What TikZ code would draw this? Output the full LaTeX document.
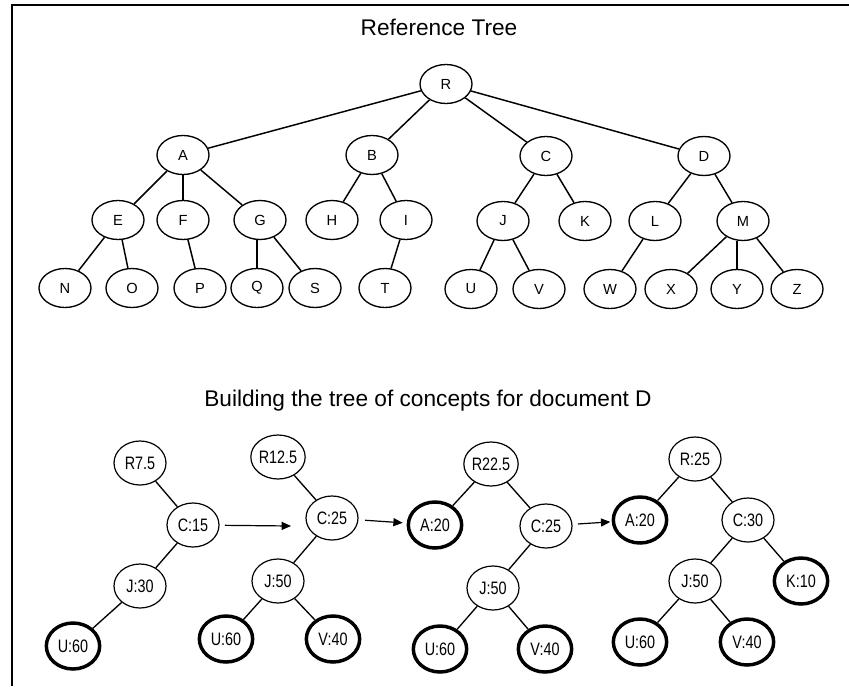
\documentclass[tikz,border=0pt]{standalone}
\usepackage{fontspec}
\setmainfont{Liberation Sans}
\newfontfamily\labelfont[FakeStretch=0.8]{Liberation Sans}
\usetikzlibrary{shapes.geometric,arrows.meta}
\begin{document}
\begin{tikzpicture}[x=0.75pt,y=-0.75pt,
  letter/.style={ellipse,draw,line width=1pt,minimum width=39pt,minimum height=29.25pt,
    inner sep=0pt,font=\fontsize{11}{12}\selectfont},
  edge/.style={line width=1.1pt},
  concept/.style={ellipse,draw,line width=0.9pt,minimum width=39pt,minimum height=33pt,
    inner sep=0pt,font=\labelfont\fontsize{13.5}{15}\selectfont},
  leaf/.style={concept,line width=2.6pt,minimum width=40pt,minimum height=34.5pt},
  link/.style={line width=1pt},
  flow/.style={line width=0.9pt,-{Triangle[length=7pt,width=6pt]}},
  heading/.style={anchor=base,font=\fontsize{17}{20}\selectfont}
]
\useasboundingbox (0,0) rectangle (849,686);
% frame
\draw[line width=1.6pt] (849,5) -- (12,5) -- (12,686);

% headings
\node[heading] (title1) at (439,35) {Reference Tree};
\node[heading] (title2) at (428,406) {Building the tree of concepts for document D};

% reference tree
\node[letter] (R) at (446,84) {R};
\node[letter] (A) at (183,155) {A};
\node[letter] (B) at (372,155) {B};
\node[letter] (C) at (546,156) {C};
\node[letter] (D) at (704,156) {D};
\node[letter] (E) at (118,220) {E};
\node[letter] (F) at (183,220) {F};
\node[letter] (G) at (260,220) {G};
\node[letter] (H) at (332,220) {H};
\node[letter] (I) at (406,220) {I};
\node[letter] (J) at (503,221) {J};
\node[letter] (K) at (585,221) {K};
\node[letter] (L) at (655,221) {L};
\node[letter] (M) at (743,221) {M};
\node[letter] (N) at (65,288) {N};
\node[letter] (O) at (132,288) {O};
\node[letter] (P) at (200,288) {P};
\node[letter] (Q) at (257,288) {Q};
\node[letter] (S) at (315,288) {S};
\node[letter] (T) at (385,288) {T};
\node[letter] (U) at (471,289) {U};
\node[letter] (V) at (539,289) {V};
\node[letter] (W) at (610,289) {W};
\node[letter] (X) at (671,289) {X};
\node[letter] (Y) at (737,289) {Y};
\node[letter] (Z) at (797,289) {Z};

\foreach \p/\c in {R/A,R/B,R/C,R/D,A/E,A/F,A/G,B/H,B/I,C/J,C/K,D/L,D/M,
                   E/N,E/O,F/P,G/S,I/T,J/U,J/V,L/W,M/X,M/Z}
  \draw[edge] (\p) -- (\c);
\draw[edge] (G.south -| Q) -- (Q);
\draw[edge] (M.south -| Y) -- (Y);

% step 1
\node[concept] (r1) at (140,463) {R7.5};
\node[concept] (c1) at (193,525) {C:15};
\node[concept] (j1) at (140,586) {J:30};
\node[leaf]    (u1) at (73,646)  {U:60};
\draw[link] (r1) -- (c1);
\draw[link] (c1) -- (j1);
\draw[link] (j1) -- (u1);

% step 2
\node[concept] (r2) at (278,457) {R12.5};
\node[concept] (c2) at (332,518) {C:25};
\node[concept] (j2) at (278,581) {J:50};
\node[leaf]    (u2) at (226,639) {U:60};
\node[leaf]    (v2) at (333,639) {V:40};
\draw[link] (r2) -- (c2);
\draw[link] (c2) -- (j2);
\draw[link] (j2) -- (u2);
\draw[link] (j2) -- (v2);

% step 3
\node[concept] (r3) at (491,464) {R22.5};
\node[leaf]    (a3) at (435,525) {A:20};
\node[concept] (c3) at (546,526) {C:25};
\node[concept] (j3) at (493,588) {J:50};
\node[leaf]    (u3) at (440,649) {U:60};
\node[leaf]    (v3) at (545,649) {V:40};
\draw[link] (r3) -- (a3);
\draw[link] (r3) -- (c3);
\draw[link] (c3) -- (j3);
\draw[link] (j3) -- (u3);
\draw[link] (j3) -- (v3);

% step 4
\node[concept] (r4) at (695,459) {R:25};
\node[leaf]    (a4) at (640,520) {A:20};
\node[concept] (c4) at (748,520) {C:30};
\node[concept] (j4) at (695,581) {J:50};
\node[leaf]    (k4) at (801,581) {K:10};
\node[leaf]    (u4) at (640,642) {U:60};
\node[leaf]    (v4) at (747,642) {V:40};
\draw[link] (r4) -- (a4);
\draw[link] (r4) -- (c4);
\draw[link] (c4) -- (j4);
\draw[link] (c4) -- (k4);
\draw[link] (j4) -- (u4);
\draw[link] (j4) -- (v4);

% arrows between steps
\coordinate (a1end) at (291,526);
\draw[flow,shorten <=4pt] (c1) -- (a1end);
\draw[flow,shorten <=5pt,shorten >=3pt] (c2) -- (a3);
\draw[flow,shorten <=4pt,shorten >=1pt] (c3) -- (a4);
\end{tikzpicture}
\end{document}
